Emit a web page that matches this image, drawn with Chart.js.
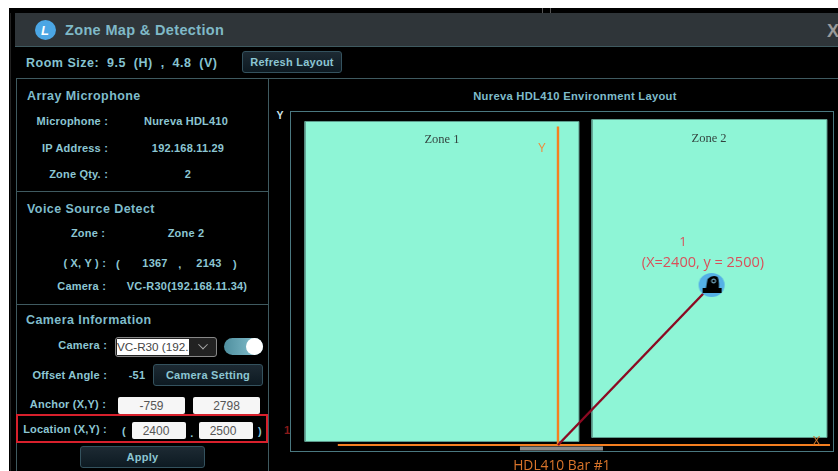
<!DOCTYPE html>
<html>
<head>
<meta charset="utf-8">
<title>Zone Map &amp; Detection</title>
<script src="https://cdn.jsdelivr.net/npm/chart.js@4"></script>
<style>
html, body { margin: 0; padding: 0; background: #fff; }
#page { position: absolute; left: 0; top: 0; width: 838px; height: 471px; overflow: hidden; background: #fff; filter: blur(.4px); font: bold 11px "Liberation Sans", Arial, sans-serif; color: #86c3d1; }
#page div { position: absolute; box-sizing: border-box; white-space: pre; }
#room { position: absolute; left: 0; top: 0; }
.bg { background: #000; }
.line { background: #3f5a60; }
.t { transform: translateY(-50%); line-height: 1; }
.r { transform: translate(-100%, -50%); line-height: 1; }
.c { transform: translate(-50%, -50%); line-height: 1; }
.head { font-size: 12.5px; letter-spacing: .42px; color: #7fbccb; }
.val { letter-spacing: .2px; color: #8cc6d3; }
.btn { background: linear-gradient(#1d2a33, #0d1a22); border: 1px solid #34525e; border-radius: 3px; display: flex; align-items: center; justify-content: center; color: #8cc6d3; letter-spacing: .25px; }
.inp { background: #f6f6f6; border-radius: 2px; display: flex; align-items: center; justify-content: center; color: #555; font: 12px "Liberation Sans", Arial, sans-serif; }
</style>
</head>
<body>
<div id="page">
  <div class="bg" style="left:9px;top:8px;width:829px;height:463px"></div>
  <div class="line" style="left:10px;top:13px;width:1px;height:458px;background:#222"></div>
  <div style="left:15px;top:13px;width:823px;height:34px;background:#2f3539;border-bottom:1px solid #3f5a60"></div>
  <div style="left:542px;top:8px;width:1px;height:5px;background:#555"></div>
  <div style="left:550px;top:8px;width:1px;height:5px;background:#555"></div>

  <div style="left:35px;top:20px;width:21px;height:20px;border-radius:50%;background:#4ba6e4"></div>
  <div class="c" style="left:45px;top:30px;color:#fff;font:italic bold 13px 'Liberation Sans'">L</div>
  <div class="t" style="left:65px;top:30px;font-size:14.5px;letter-spacing:.35px;color:#7fb9c7">Zone Map &amp; Detection</div>
  <div class="c" style="left:833px;top:31px;font-size:18px;color:#9a9a9a">X</div>

  <div class="t" style="left:26px;top:63px;font-size:12.5px;letter-spacing:.5px">Room Size:  9.5  (H)  ,  4.8  (V)</div>
  <div class="btn" style="left:242px;top:51px;width:100px;height:22px;font-size:11px">Refresh Layout</div>

  <div class="line" style="left:16px;top:78px;width:822px;height:1px"></div>
  <div class="line" style="left:16px;top:78px;width:1px;height:393px"></div>
  <div class="line" style="left:268px;top:78px;width:1px;height:393px"></div>
  <div class="line" style="left:16px;top:191px;width:252px;height:1px"></div>
  <div class="line" style="left:16px;top:304px;width:252px;height:1px"></div>

  <div class="t head" style="left:27px;top:96px">Array Microphone</div>
  <div class="r val" style="left:108px;top:121px">Microphone :</div>
  <div class="c val" style="left:186px;top:121px">Nureva HDL410</div>
  <div class="r val" style="left:108px;top:148px">IP Address :</div>
  <div class="c val" style="left:188px;top:148px">192.168.11.29</div>
  <div class="r val" style="left:108px;top:174px">Zone Qty. :</div>
  <div class="c val" style="left:188px;top:174px">2</div>

  <div class="t head" style="left:27px;top:209px">Voice Source Detect</div>
  <div class="c val" style="left:88px;top:233px">Zone :</div>
  <div class="c val" style="left:186px;top:233px">Zone 2</div>
  <div class="r val" style="left:106px;top:263px">( X, Y ) :</div>
  <div class="c val" style="left:118px;top:264px">(</div>
  <div class="c val" style="left:155px;top:263px">1367</div>
  <div class="c val" style="left:180px;top:264px">,</div>
  <div class="c val" style="left:209px;top:263px">2143</div>
  <div class="c val" style="left:235px;top:264px">)</div>
  <div class="r val" style="left:106px;top:286px">Camera :</div>
  <div class="c val" style="left:187px;top:286px">VC-R30(192.168.11.34)</div>

  <div class="t head" style="left:26px;top:320px">Camera Information</div>
  <div class="r val" style="left:107px;top:345px">Camera :</div>
  <div style="left:115px;top:337px;width:102px;height:20px;background:#222;border:1px solid #888;border-radius:3px"></div>
  <div class="t" style="left:117px;top:347px;width:72px;height:16px;background:#fff;color:#444;font:11.7px/16px 'Liberation Sans';overflow:hidden">VC-R30 (192.</div>
  <div class="c" style="left:203px;top:346px;width:7px;height:7px;border-right:1.5px solid #aaa;border-bottom:1.5px solid #aaa;transform:translate(-50%,-70%) rotate(45deg)"></div>
  <div style="left:224px;top:338px;width:39px;height:17px;border-radius:9px;background:linear-gradient(90deg,#4f8f9f,#8cc6d3)"></div>
  <div style="left:246px;top:338px;width:17px;height:17px;border-radius:50%;background:#fff"></div>

  <div class="r val" style="left:107px;top:375px">Offset Angle :</div>
  <div class="c val" style="left:137px;top:375px">-51</div>
  <div class="btn" style="left:153px;top:364px;width:110px;height:22px">Camera Setting</div>

  <div class="r val" style="left:106px;top:404px">Anchor (X,Y) :</div>
  <div class="inp" style="left:118px;top:397px;width:67px;height:17px">-759</div>
  <div class="inp" style="left:193px;top:397px;width:67px;height:17px">2798</div>

  <div style="left:16px;top:414px;width:252px;height:29px;border:2px solid #d8202c"></div>
  <div class="r val" style="left:107px;top:429px">Location (X,Y) :</div>
  <div class="c val" style="left:124px;top:431px">(</div>
  <div class="inp" style="left:132px;top:422px;width:54px;height:17px;padding-right:6px">2400</div>
  <div class="c val" style="left:192px;top:433px">.</div>
  <div class="inp" style="left:199px;top:422px;width:54px;height:17px;padding-right:6px">2500</div>
  <div class="c val" style="left:260px;top:431px">)</div>
  <div class="btn" style="left:80px;top:446px;width:125px;height:22px">Apply</div>

  <div class="c" style="left:575px;top:97px;font-size:11.2px;letter-spacing:.3px;color:#7fbccb">Nureva HDL410 Environment Layout</div>
  <div class="c" style="left:280px;top:115px;font-size:10.5px;color:#cfe3e8">Y</div>
  <div class="c" style="left:287px;top:430px;font-size:11px;color:#8a1a1a">1</div>

  <canvas id="room" width="838" height="471"></canvas>
</div>

<script>
// room layout in millimetres, origin is the centre of the HDL410 bar
const zone1X = [-3953, 328]
const zone1Y = [55, 5055]
const zone2X = [531, 4203]
const zone2Y = [117, 5086]
const axisX = [-3440, 4250]
const axisY = [0, 4976]
const barX = [-594, 703]
const barY = -55
const micLocation = [0, 0]
const cameraLocation = [2400, 2500]

// room extent covered by the frame
const roomX = [-4187, 4297]
const roomY = [-94, 5219]

const labelText = ['Zone 1', 'Zone 2', 'Y', 'X', '1', '(X=2400, y = 2500)', 'HDL410 Bar #1']
const labelX = [-1812, 2360, -250, 4040, 1953, 2265, 60]
const labelY = [4773, 4790, 4640, 60, 3160, 2850, -330]

const zoneFont = '12.5px "Liberation Serif"'
const noteFont = '13px "Open Sans"'
const labelFont = [zoneFont, zoneFont, noteFont, noteFont, noteFont, '14.5px "Open Sans"', '13.8px "Open Sans"']
const labelColor = ['#33433f', '#33433f', '#f08a3c', '#c9762f', '#d9505a', '#d9505a', '#d9742a']

function rect(xs, ys) {
  return [
    { x: xs[0], y: ys[0] },
    { x: xs[1], y: ys[0] },
    { x: xs[1], y: ys[1] },
    { x: xs[0], y: ys[1] },
    { x: xs[0], y: ys[0] }
  ]
}

function lineDataset(points, color, width) {
  return { data: points, showLine: true, pointRadius: 0, borderWidth: width, borderColor: color, fill: false }
}

// top edge of the zone, filled down to its bottom edge
function zoneFill(xs, ys) {
  return {
    data: [{ x: xs[0], y: ys[1] }, { x: xs[1], y: ys[1] }],
    showLine: true,
    pointRadius: 0,
    borderWidth: 0,
    backgroundColor: '#8ef5d6',
    fill: { value: ys[0] }
  }
}

// blue disc with the PTZ camera silhouette
function cameraIcon() {
  const c = document.createElement('canvas')
  c.width = 28
  c.height = 28
  const g = c.getContext('2d')
  g.fillStyle = '#55b0e6'
  g.beginPath()
  g.ellipse(14, 14, 13, 12, 0, 0, Math.PI * 2)
  g.fill()
  g.fillStyle = '#000'
  g.beginPath()
  g.moveTo(8, 19)
  g.lineTo(10, 8)
  g.quadraticCurveTo(15, 3, 20, 6)
  g.quadraticCurveTo(22, 11, 21, 19)
  g.closePath()
  g.fill()
  g.fillRect(5, 17, 19, 5)
  g.strokeStyle = '#8fd0ee'
  g.lineWidth = 1
  g.beginPath()
  g.arc(16, 10, 2, 0, Math.PI * 2)
  g.stroke()
  return c
}

const roomLabels = {
  id: 'roomLabels',
  beforeDatasetsDraw(chart) {
    const a = chart.chartArea
    const ctx = chart.ctx
    ctx.save()
    ctx.strokeStyle = '#4a7880'
    ctx.lineWidth = 1
    ctx.strokeRect(a.left + .5, a.top + .5, a.width, a.height)
    ctx.restore()
  },
  afterDraw(chart) {
    const ctx = chart.ctx
    ctx.save()
    ctx.textAlign = 'center'
    ctx.textBaseline = 'middle'
    labelText.forEach(function(text, i) {
      ctx.font = labelFont[i]
      ctx.fillStyle = labelColor[i]
      ctx.fillText(text, chart.scales.x.getPixelForValue(labelX[i]), chart.scales.y.getPixelForValue(labelY[i]))
    })
    ctx.restore()
  }
}

new Chart(document.getElementById('room'), {
  type: 'scatter',
  data: {
    // first dataset ends up on top
    datasets: [
      {
        data: [{ x: cameraLocation[0], y: cameraLocation[1] }],
        pointStyle: cameraIcon(),
        pointRadius: 3
      },
      lineDataset([
        { x: micLocation[0], y: micLocation[1] },
        { x: cameraLocation[0], y: cameraLocation[1] }
      ], '#8b0a22', 2.4),
      lineDataset([{ x: axisX[0], y: 0 }, { x: axisX[1], y: 0 }], '#f57f20', 2),
      lineDataset([{ x: 0, y: axisY[0] }, { x: 0, y: axisY[1] }], '#f57f20', 2.4),
      lineDataset([{ x: barX[0], y: barY }, { x: barX[1], y: barY }], '#8a8a8a', 4),
      lineDataset(rect(zone1X, zone1Y), '#5f9c8e', 1),
      lineDataset(rect(zone2X, zone2Y), '#5f9c8e', 1),
      zoneFill(zone1X, zone1Y),
      zoneFill(zone2X, zone2Y)
    ]
  },
  options: {
    responsive: false,
    animation: false,
    devicePixelRatio: 1,
    layout: { padding: { left: 290, top: 111, right: 5, bottom: 20 } },
    plugins: { legend: { display: false }, tooltip: { enabled: false } },
    scales: {
      x: { type: 'linear', display: false, min: roomX[0], max: roomX[1] },
      y: { type: 'linear', display: false, min: roomY[0], max: roomY[1] }
    }
  },
  plugins: [roomLabels]
})
</script>
</body>
</html>
